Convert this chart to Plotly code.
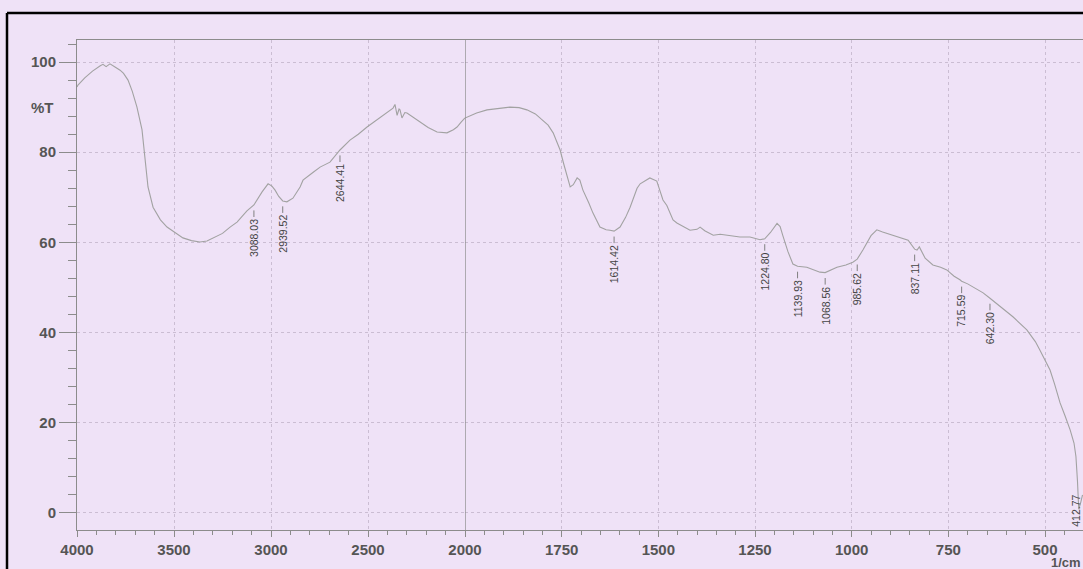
import numpy as np
import plotly.graph_objects as go

# FTIR transmittance spectrum (wavenumber in 1/cm, transmittance in %T)
wavenumber = [
    4000, 3995, 3960, 3920, 3880, 3866, 3850, 3830, 3800, 3778, 3760, 3737, 3715,
    3691, 3665, 3650, 3634, 3608, 3570, 3536, 3490, 3454, 3410, 3366, 3330, 3299,
    3250, 3211, 3175, 3124, 3088.03, 3046, 3015, 2995, 2979, 2960, 2939.52, 2918,
    2887, 2850, 2835, 2784, 2747, 2696, 2660, 2644.41, 2593, 2550, 2505, 2460,
    2423, 2385, 2371, 2361, 2350, 2340, 2335, 2325, 2310, 2299, 2270, 2232, 2190,
    2144, 2093, 2060, 2041, 2020, 2000,
    1995, 1970, 1943, 1910, 1884, 1860, 1840, 1818, 1798, 1785, 1772, 1762, 1754,
    1745, 1736, 1728, 1720, 1710, 1703, 1695, 1680, 1669, 1651, 1635, 1625,
    1614.42, 1599, 1585, 1573, 1555, 1547, 1530, 1522, 1504, 1488, 1478, 1462,
    1452, 1430, 1418, 1400, 1392, 1380, 1366, 1358, 1340, 1322, 1300, 1289, 1263,
    1245, 1237, 1224.80, 1210, 1193, 1185, 1178, 1165, 1152, 1139.93, 1116, 1095,
    1082, 1068.56, 1048, 1038, 1015, 997, 985.62, 971, 950, 935, 920, 909, 890,
    875, 854, 837.11, 831, 825, 810, 790, 770, 754, 735, 720, 715.59, 700, 686,
    660, 642.30, 616, 583, 547, 525, 513, 500, 487, 475, 461, 448, 435, 425, 420,
    416, 412.77, 407, 403,
]
transmittance = [
    94.5, 94.9, 96.5, 98.0, 99.2, 99.5, 99.0, 99.6, 98.8, 98.2, 97.5, 96.0, 93.5,
    90.0, 85.0, 79.0, 72.3, 67.8, 65.0, 63.4, 62.0, 61.0, 60.4, 60.1, 60.3, 61.0,
    62.0, 63.4, 64.5, 67.0, 68.3, 71.2, 73.0, 72.5, 71.6, 70.2, 69.2, 69.0,
    69.8, 72.3, 73.8, 75.5, 76.7, 77.8, 79.6, 80.5, 82.7, 84.0, 85.6, 87.0,
    88.2, 89.3, 89.8, 90.6, 88.2, 89.6, 89.4, 87.6, 88.8, 88.7, 87.8, 86.7, 85.5,
    84.5, 84.3, 85.0, 85.6, 86.7, 87.6,
    87.8, 88.7, 89.4, 89.8, 90.0, 89.9, 89.4, 88.5, 87.1, 86.0, 84.3, 82.3, 80.5,
    77.5, 74.5, 72.3, 72.8, 74.3, 73.8, 71.6, 68.8, 66.5, 63.4, 62.8, 62.7,
    62.5, 63.4, 65.5, 67.8, 72.0, 73.0, 74.0, 74.3, 73.6, 69.4, 68.2, 65.0,
    64.3, 63.2, 62.7, 62.9, 63.4, 62.6, 62.0, 61.6, 61.8, 61.6, 61.3, 61.2, 61.2,
    60.9, 60.6, 60.8, 62.2, 64.2, 63.5, 61.5, 58.0, 55.2, 54.7, 54.5, 53.8,
    53.4, 53.3, 54.2, 54.5, 55.0, 55.6, 56.3, 58.3, 61.5, 62.8, 62.3, 62.0, 61.5,
    61.2, 60.5, 58.5, 58.3, 59.0, 56.5, 55.0, 54.5, 53.9, 52.5, 51.7, 51.4, 50.8, 50.1,
    48.8, 47.6, 45.7, 43.5, 40.6, 38.0, 36.1, 34.0, 31.7, 28.5, 24.4, 21.5, 18.4, 15.5, 12.5,
    7.0, 0.8, 2.5, 4.0,
]

# Annotated peak positions (1/cm)
peak_wn = [3088.03, 2939.52, 2644.41, 1614.42, 1224.80, 1139.93, 1068.56,
           985.62, 837.11, 715.59, 642.30, 412.77]

y_ticks = [0, 20, 40, 60, 80, 100]
x_ticks_high = [4000, 3500, 3000, 2500]
x_ticks_low = [2000, 1750, 1500, 1250, 1000, 750, 500]

BG = "#EFE2F7"
AXIS = "#8c8c8c"
GRID = "#cbbdd3"
LINE = "#a2a2a2"
TXT = "#555555"

W, H = 1083, 569
L, R, T, B = 77, 0, 40, 39
split = 388 / (W - L - R)
y_min, y_max = -3.8, 104.9
x2_end = 2000 - 618 / (580 / 1500)

wn = np.array(wavenumber, dtype=float)
tr = np.array(transmittance, dtype=float)
hi = wn >= 2000
lo = wn <= 2000

fig = go.Figure()
fig.add_trace(go.Scatter(x=wn[hi], y=tr[hi], mode="lines", xaxis="x", yaxis="y",
                         line=dict(color=LINE, width=1.1), hoverinfo="skip",
                         showlegend=False))
fig.add_trace(go.Scatter(x=wn[lo], y=tr[lo], mode="lines", xaxis="x2", yaxis="y",
                         line=dict(color=LINE, width=1.1), hoverinfo="skip",
                         showlegend=False))

# Peak markers: short drop line under the curve with a rotated label
order = np.argsort(wn)
px_per_unit = (H - T - B) / (y_max - y_min)
gap = 12 / px_per_unit
text_len = 40 / px_per_unit
label_font = dict(family="Liberation Sans Narrow, Liberation Sans, Arial",
                  size=10.5, color="#444")
mk = {"x": ([], []), "x2": ([], [])}
for p in peak_wn:
    t = float(np.interp(p, wn[order], tr[order]))
    ax = "x" if p > 2000 else "x2"
    label = f"{p:.2f}"
    top = t - gap
    if top - text_len < y_min:
        fig.add_annotation(x=p, y=y_min, xref=ax, yref="y", text=label,
                           textangle=-90, showarrow=False, yanchor="bottom",
                           xanchor="center", xshift=-3, yshift=1,
                           font=label_font)
        continue
    xs, ys = mk[ax]
    xs += [p, p, None]
    ys += [t - 1.2, top, None]
    fig.add_annotation(x=p, y=top, xref=ax, yref="y", text=label,
                       textangle=-90, showarrow=False, yanchor="top",
                       xanchor="center", font=label_font)
for ax, (xs, ys) in mk.items():
    fig.add_trace(go.Scatter(x=xs, y=ys, mode="lines", xaxis=ax, yaxis="y",
                             line=dict(color="#808080", width=1), hoverinfo="skip",
                             showlegend=False))

tick_font = dict(family="Liberation Sans, Arial", size=15, color=TXT, weight="bold")

common_x = dict(
    showline=True, linecolor=AXIS, linewidth=1, mirror=True,
    ticks="outside", ticklen=6, tickcolor=AXIS,
    showgrid=True, gridcolor=GRID, griddash="dot", gridwidth=1,
    zeroline=False, tickfont=tick_font,
)
fig.update_layout(
    width=W, height=H,
    margin=dict(l=L, r=R, t=T, b=B),
    paper_bgcolor=BG, plot_bgcolor=BG,
    xaxis=dict(domain=[0, split], range=[4000, 2000], tickvals=x_ticks_high,
               minor=dict(dtick=100, tick0=0, ticks="outside", ticklen=4,
                          tickcolor=AXIS, showgrid=False),
               anchor="y", **common_x),
    xaxis2=dict(domain=[split, 1], range=[2000, x2_end], tickvals=x_ticks_low,
                minor=dict(dtick=50, tick0=0, ticks="outside", ticklen=4,
                           tickcolor=AXIS, showgrid=False),
                anchor="y", **common_x),
    yaxis=dict(range=[y_min, y_max], tickvals=y_ticks,
               showline=True, linecolor=AXIS, linewidth=1,
               ticks="outside", ticklen=17, tickcolor=AXIS,
               minor=dict(dtick=4, tick0=0, ticks="outside", ticklen=8,
                          tickcolor=AXIS, showgrid=False),
               showgrid=True, gridcolor=GRID, griddash="dot", gridwidth=1,
               zeroline=False, tickfont=tick_font),
)

# Solid divider where the wavenumber scale changes
fig.add_shape(type="line", xref="x2", yref="paper", x0=2000, x1=2000, y0=0, y1=1,
              line=dict(color="#8a8a8a", width=1.3))

# Outer frame (left and top edges)
plot_w = W - L - R
plot_h = H - T - B
fx = (7 - L) / plot_w
fy_top = (H - B - 13) / plot_h
fy_bot = (H - B - H) / plot_h
fig.add_shape(type="line", xref="paper", yref="paper", x0=fx, x1=fx, y0=fy_bot, y1=fy_top,
              line=dict(color="black", width=2.5))
fig.add_shape(type="line", xref="paper", yref="paper", x0=fx, x1=1.01, y0=fy_top, y1=fy_top,
              line=dict(color="black", width=2.5))

fig.add_annotation(text="%T", xref="paper", yref="y", x=(42 - L) / plot_w, y=90,
                   showarrow=False, xanchor="center", yanchor="middle",
                   font=tick_font)
fig.add_annotation(text="1/cm", xref="paper", yref="paper", x=1.0,
                   y=(H - B - 562) / plot_h,
                   showarrow=False, xanchor="right", yanchor="middle",
                   font=dict(family="Liberation Sans, Arial", size=13, color=TXT, weight="bold"))

fig.write_html("out.html")
